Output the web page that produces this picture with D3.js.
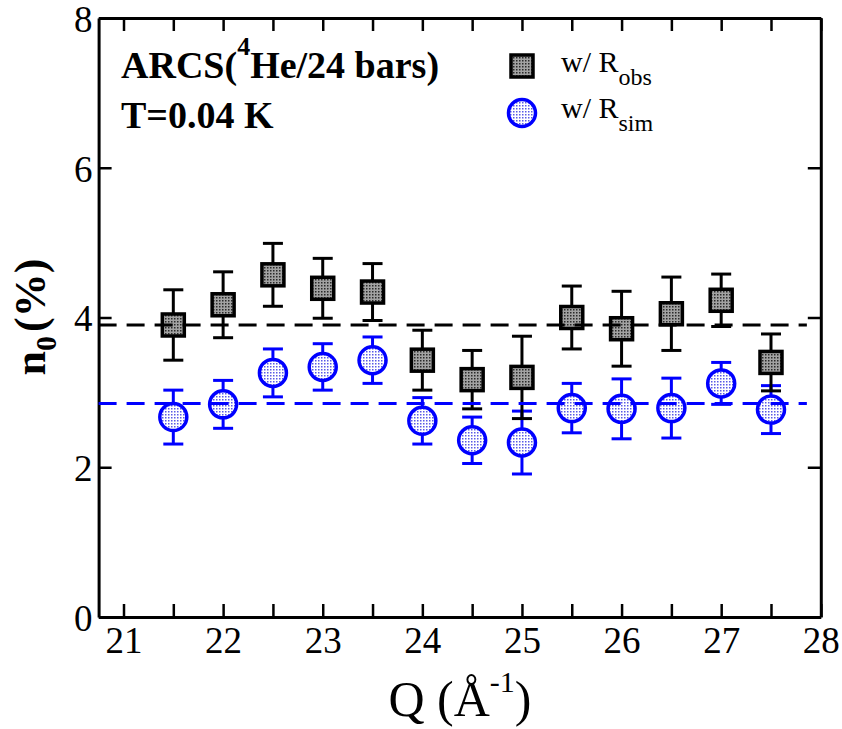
<!DOCTYPE html>
<html>
<head>
<meta charset="utf-8">
<script src="https://cdn.jsdelivr.net/npm/d3@7"></script>
<style>
  body { margin: 0; background: #fff; }
  svg text { font-family: "Liberation Serif", "Times New Roman", serif; }
</style>
</head>
<body>
<svg id="chart" width="842" height="729"></svg>
<script>
// data
var qVals   = [21.5, 22, 22.5, 23, 23.5, 24, 24.5, 25, 25.5, 26, 26.5, 27, 27.5];
var n0Obs   = [3.90, 4.17, 4.57, 4.39, 4.34, 3.43, 3.17, 3.20, 4.00, 3.85, 4.05, 4.23, 3.40];
var errObs  = [0.47, 0.44, 0.42, 0.40, 0.38, 0.40, 0.39, 0.55, 0.42, 0.50, 0.49, 0.35, 0.38];
var n0Sim   = [2.67, 2.84, 3.26, 3.34, 3.43, 2.62, 2.36, 2.33, 2.79, 2.78, 2.79, 3.12, 2.77];
var errSim  = [0.36, 0.32, 0.32, 0.31, 0.31, 0.31, 0.31, 0.42, 0.33, 0.40, 0.40, 0.28, 0.32];
var avgObs  = 3.90, avgSim = 2.85;
var avgQ    = [20.75, 27.86];
var xMajor  = [21, 22, 23, 24, 25, 26, 27, 28];
var xMinor  = [21.5, 22.5, 23.5, 24.5, 25.5, 26.5, 27.5];
var yMajor  = [0, 2, 4, 6, 8];

var svg = d3.select("#chart");

var x = d3.scaleLinear().domain([20.75, 28]).range([98.6, 820.8]);
var y = d3.scaleLinear().domain([0, 8]).range([617, 18]);

// fill textures
var defs = svg.append("defs");
var pg = defs.append("pattern").attr("id", "grayDots")
    .attr("width", 3).attr("height", 3).attr("patternUnits", "userSpaceOnUse");
pg.append("rect").attr("width", 3).attr("height", 3).attr("fill", "#a2a2a2");
pg.append("rect").attr("width", 1.5).attr("height", 1.5).attr("fill", "#2a2a2a");
var pb = defs.append("pattern").attr("id", "blueDots")
    .attr("width", 3).attr("height", 3).attr("patternUnits", "userSpaceOnUse");
pb.append("rect").attr("width", 3).attr("height", 3).attr("fill", "#ffffff");
pb.append("rect").attr("width", 1.5).attr("height", 1.5).attr("fill", "#5a5ae6");

// axes
var tk = 13;
var axB = svg.append("g").attr("transform", "translate(0," + y(0) + ")")
    .call(d3.axisBottom(x).tickValues(xMajor.concat(xMinor)).tickSizeInner(-tk).tickSizeOuter(0)
      .tickFormat(function(d) { return Number.isInteger(d) ? d : ""; }));
axB.selectAll("text").attr("y", 10).attr("dy", "0.71em")
    .style("font-size", "37px").attr("fill", "#000");

svg.append("g").attr("transform", "translate(0," + y(8) + ")")
    .call(d3.axisTop(x).tickValues(xMajor.concat(xMinor)).tickSizeInner(-tk).tickSizeOuter(0).tickFormat(""));

var axL = svg.append("g").attr("transform", "translate(" + x(20.75) + ",0)")
    .call(d3.axisLeft(y).tickValues(yMajor).tickSizeInner(-tk).tickSizeOuter(0));
axL.selectAll("text").attr("x", -6).attr("dy", "0.36em")
    .style("font-size", "37px").attr("fill", "#000");

svg.append("g").attr("transform", "translate(" + x(28) + ",0)")
    .call(d3.axisRight(y).tickValues(yMajor).tickSizeInner(-tk).tickSizeOuter(0).tickFormat(""));

svg.selectAll(".domain").attr("stroke", "#000").attr("stroke-width", 3);
svg.selectAll(".tick line").attr("stroke", "#000").attr("stroke-width", 2.5);

// error bars + markers
function drawSeries(vals, errs, color) {
  var g = svg.append("g");
  var pts = qVals.map(function(q, i) { return {q: q, v: vals[i], e: errs[i]}; });
  g.selectAll(".bar").data(pts).enter().append("line")
    .attr("x1", function(d) { return x(d.q); }).attr("x2", function(d) { return x(d.q); })
    .attr("y1", function(d) { return y(d.v - d.e); }).attr("y2", function(d) { return y(d.v + d.e); })
    .attr("stroke", color).attr("stroke-width", 3);
  [-1, 1].forEach(function(s) {
    g.selectAll(".cap" + s).data(pts).enter().append("line")
      .attr("x1", function(d) { return x(d.q) - 10; }).attr("x2", function(d) { return x(d.q) + 10; })
      .attr("y1", function(d) { return y(d.v + s * d.e); }).attr("y2", function(d) { return y(d.v + s * d.e); })
      .attr("stroke", color).attr("stroke-width", 3);
  });
  return g.selectAll(".mk").data(pts).enter();
}

drawSeries(n0Sim, errSim, "#0000ff").append("circle")
    .attr("cx", function(d) { return x(d.q); }).attr("cy", function(d) { return y(d.v); })
    .attr("r", 13.5).attr("fill", "url(#blueDots)").attr("stroke", "#0000ff").attr("stroke-width", 3.5);

drawSeries(n0Obs, errObs, "#000").append("rect")
    .attr("x", function(d) { return x(d.q) - 11; }).attr("y", function(d) { return y(d.v) - 11; })
    .attr("width", 22).attr("height", 22)
    .attr("fill", "url(#grayDots)").attr("stroke", "#000").attr("stroke-width", 3.5);

// average dashed lines
var line = d3.line().x(function(d) { return x(d[0]); }).y(function(d) { return y(d[1]); });
svg.append("path").attr("d", line(avgQ.map(function(q) { return [q, avgObs]; })))
    .attr("stroke", "#000").attr("stroke-width", 3).attr("stroke-dasharray", "18,10").attr("fill", "none");
svg.append("path").attr("d", line(avgQ.map(function(q) { return [q, avgSim]; })))
    .attr("stroke", "#0000ff").attr("stroke-width", 3).attr("stroke-dasharray", "18,10").attr("fill", "none");

// annotation text
var t1 = svg.append("text").attr("x", 121).attr("y", 78)
    .style("font-size", "38px").style("font-weight", "bold");
t1.append("tspan").text("ARCS(");
t1.append("tspan").attr("dy", -23).style("font-size", "26px").text("4");
t1.append("tspan").attr("dy", 23).text("He/24 bars)");
svg.append("text").attr("x", 121).attr("y", 128)
    .style("font-size", "38px").style("font-weight", "bold").text("T=0.04 K");

// legend
svg.append("rect").attr("x", 511).attr("y", 55).attr("width", 22).attr("height", 22)
    .attr("fill", "url(#grayDots)").attr("stroke", "#000").attr("stroke-width", 3.5);
svg.append("circle").attr("cx", 522).attr("cy", 113).attr("r", 13.5)
    .attr("fill", "url(#blueDots)").attr("stroke", "#0000ff").attr("stroke-width", 3.5);
var l1 = svg.append("text").attr("x", 561).attr("y", 72).style("font-size", "30px");
l1.append("tspan").text("w/ R");
l1.append("tspan").attr("dy", 13).style("font-size", "24px").text("obs");
var l2 = svg.append("text").attr("x", 561).attr("y", 118).style("font-size", "30px");
l2.append("tspan").text("w/ R");
l2.append("tspan").attr("dy", 13).style("font-size", "24px").text("sim");

// axis titles
var xt = svg.append("text").attr("x", 460).attr("y", 716).attr("text-anchor", "middle")
    .style("font-size", "50px");
xt.append("tspan").text("Q (Å");
xt.append("tspan").attr("dy", -24).style("font-size", "30px").text("-1");
xt.append("tspan").attr("dy", 24).text(")");

var yt = svg.append("text").attr("transform", "translate(45,317) rotate(-90)")
    .attr("text-anchor", "middle").style("font-size", "44px").style("font-weight", "bold");
yt.append("tspan").text("n");
yt.append("tspan").attr("dy", 11).style("font-size", "30px").text("0");
yt.append("tspan").attr("dy", -11).attr("dx", 4).text("(%)");
</script>
</body>
</html>
